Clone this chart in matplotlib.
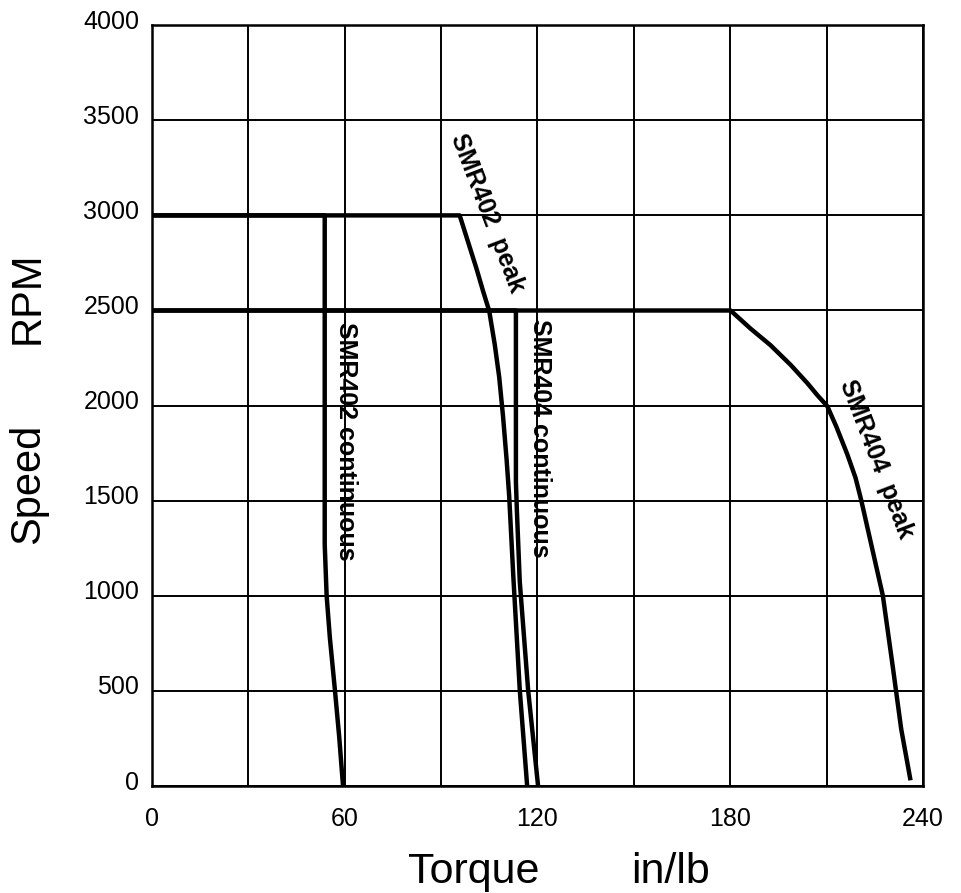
"""
Speed / torque curves for SMR402 and SMR404 motors
"""

import matplotlib.pyplot as plt
import matplotlib.transforms as mtransforms

plt.rcParams["font.family"] = ["Liberation Sans", "DejaVu Sans"]

# ==========================================================
# Data (torque in/lb, speed RPM)
# ==========================================================

smr402_cont_torque = [0, 53.8, 53.8, 54.4, 55.4, 57.0, 58.3, 59.5]
smr402_cont_speed  = [3000, 3000, 1270, 1000, 780, 500, 260, 0]

smr402_peak_torque = [0, 95.8, 98.4, 101.0, 103.1, 105.0, 106.7, 108.1,
                      109.3, 110.4, 111.2, 112.5, 114.5, 116.8]
smr402_peak_speed  = [3000, 3000, 2861, 2722, 2601, 2497, 2323, 2150,
                      1942, 1717, 1526, 1100, 505, 0]

smr404_cont_torque = [0, 113.3, 113.3, 113.6, 114.5, 117.1, 120.2]
smr404_cont_speed  = [2500, 2500, 1600, 1450, 1074, 505, 0]

smr404_peak_torque = [0, 180.1, 186.3, 192.5, 198.8, 204.0, 207.1, 210.2,
                      213.0, 216.4, 219.0, 220.8, 227.5, 230.6, 233.2, 236.1]
smr404_peak_speed  = [2500, 2500, 2405, 2318, 2214, 2118, 2055, 1997,
                      1890, 1745, 1620, 1500, 1000, 625, 300, 30]

x_ticks = [0, 30, 60, 90, 120, 150, 180, 210, 240]
x_tick_labels = ["0", "", "60", "", "120", "", "180", "", "240"]
y_ticks = [0, 500, 1000, 1500, 2000, 2500, 3000, 3500, 4000]

# curve labels: text, torque, speed, rotation
curve_labels = [
    ("SMR402 continuous", 60.4, 1812, -90),
    ("SMR404 continuous", 120.8, 1830, -90),
    ("SMR402  peak", 104.3, 3010, -69),
    ("SMR404  peak", 225.4, 1720, -69),
]

# ==========================================================
# Figure
# ==========================================================

fig = plt.figure(figsize=(9.61, 8.93), dpi=100)
ax = fig.add_axes([0.158, 0.1198, 0.8025, 0.852])

for t, s in [(smr402_cont_torque, smr402_cont_speed),
             (smr402_peak_torque, smr402_peak_speed),
             (smr404_cont_torque, smr404_cont_speed),
             (smr404_peak_torque, smr404_peak_speed)]:
    ax.plot(t, s, color="black", linewidth=3.2,
            solid_joinstyle="round", solid_capstyle="butt", zorder=3)

ax.set_xlim(0, 240)
ax.set_ylim(0, 4000)

ax.set_xticks(x_ticks)
ax.set_xticklabels(x_tick_labels)
ax.set_yticks(y_ticks)

ax.grid(True, color="black", linewidth=1.4)
ax.set_axisbelow(True)

for sp in ax.spines.values():
    sp.set_linewidth(1.8)

tick_font = ["Liberation Sans Narrow", "Liberation Sans", "DejaVu Sans"]
ax.tick_params(length=0, labelsize=18)
ax.tick_params(axis="x", pad=15)
ax.tick_params(axis="y", pad=9)
for lab in ax.get_xticklabels() + ax.get_yticklabels():
    lab.set_family(tick_font)

# y tick labels sit a little above their grid lines
shift = mtransforms.ScaledTranslation(0, 0.06, fig.dpi_scale_trans)
for lab in ax.get_yticklabels():
    lab.set_transform(lab.get_transform() + shift)

for txt, x, y, rot in curve_labels:
    ax.text(x, y, txt, rotation=rot, rotation_mode="anchor",
            ha="center", va="center", fontsize=18, fontweight="bold",
            family=tick_font, zorder=4)

# axis titles, set apart word by word as in the original
fig.text(0.029, 1 - 484 / 893, "Speed", rotation=90,
         ha="center", va="center", fontsize=30)
fig.text(0.029, 1 - 298 / 893, "RPM", rotation=90,
         ha="center", va="center", fontsize=30)
fig.text(473.5 / 961, 0.011, "Torque",
         ha="center", va="baseline", fontsize=31)
fig.text(670 / 961, 0.011, "in/lb",
         ha="center", va="baseline", fontsize=31)

plt.savefig("out.png", dpi=100)
plt.close()
